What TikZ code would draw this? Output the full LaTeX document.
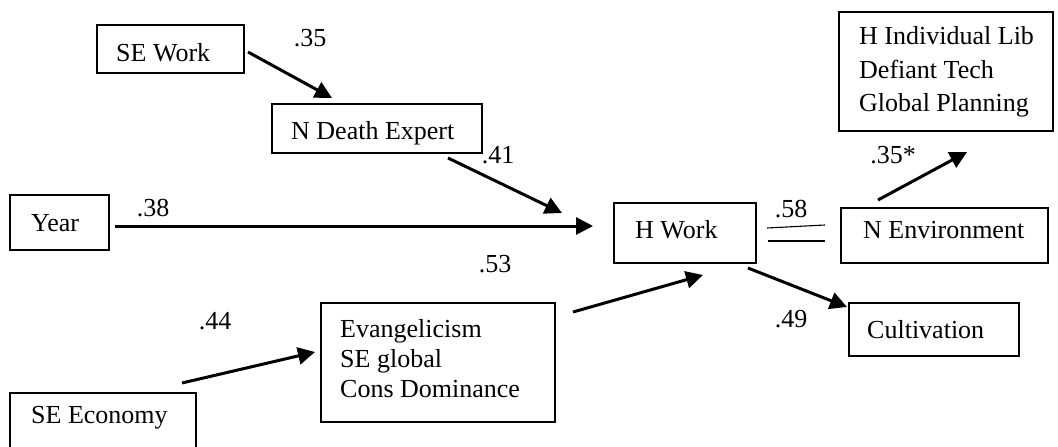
\documentclass[tikz,border=0pt]{standalone}
\usepackage{fontspec}
\setmainfont{Liberation Serif}
\usetikzlibrary{arrows.meta,fit}

\begin{document}
\begin{tikzpicture}[x=1pt,y=-1pt,
  box/.style={draw, line width=1.2pt, inner sep=0pt, outer sep=0pt},
  txt/.style={inner sep=0pt, anchor=base west, font=\fontsize{26}{30}\selectfont},
  coef/.style={inner sep=0pt, anchor=center, font=\fontsize{26}{30}\selectfont},
  path/.style={line width=3pt, -{Triangle[length=17pt,width=17pt]}},
  thin/.style={line width=1.1pt}]

  % canvas
  \clip (0,0) rectangle (1058,447);

  % variable boxes
  \node[box, fit={(97,25) (244,73)}] (sework) {};
  \node[txt] (sework-t) at (116,61) {SE Work};

  \node[box, fit={(272,104) (482,153)}] (ndeath) {};
  \node[txt] (ndeath-t) at (291,139) {N Death Expert};

  \node[box, fit={(10,195) (109,250)}] (year) {};
  \node[txt] (year-t) at (31,231) {Year};

  \node[box, fit={(614,203) (756,263)}] (hwork) {};
  \node[txt] (hwork-t) at (635,238) {H Work};

  \node[box, fit={(841,208) (1048,263)}] (nenv) {};
  \node[txt] (nenv-t) at (863,238) {N Environment};

  \node[box, fit={(839,12) (1053,131)}] (hind) {};
  \node[txt] (hind-1) at (859,44) {H Individual Lib};
  \node[txt] (hind-2) at (859,78) {Defiant Tech};
  \node[txt] (hind-3) at (859,111) {Global Planning};

  \node[box, fit={(849,303) (1019,356)}] (cult) {};
  \node[txt] (cult-t) at (867,338) {Cultivation};

  \node[box, fit={(321,303) (555,422)}] (evang) {};
  \node[txt] (evang-1) at (340,337) {Evangelicism};
  \node[txt] (evang-2) at (340,367) {SE global};
  \node[txt] (evang-3) at (340,397) {Cons Dominance};

  \node[box, fit={(10,393) (196,470)}] (seecon) {};
  \node[txt] (seecon-t) at (31,423) {SE Economy};

  % arrow end points
  \coordinate (p1s) at (248,52);  \coordinate (p1e) at (332,98);
  \coordinate (p2s) at (448,158); \coordinate (p2e) at (562,213);
  \coordinate (p3s) at (115,226); \coordinate (p3e) at (593,226);
  \coordinate (p4s) at (182,383); \coordinate (p4e) at (315,352);
  \coordinate (p5s) at (573,312); \coordinate (p5e) at (703,275);
  \coordinate (p6s) at (748,268); \coordinate (p6e) at (847,307);
  \coordinate (p7s) at (878,200); \coordinate (p7e) at (967,152);
  \coordinate (c1s) at (767,228); \coordinate (c1e) at (825,225);
  \coordinate (c2s) at (768,241); \coordinate (c2e) at (825,241);

  % paths
  \draw[path] (p1s) -- (p1e);
  \draw[path] (p2s) -- (p2e);
  \draw[path] (p3s) -- (p3e);
  \draw[path] (p4s) -- (p4e);
  \draw[path] (p5s) -- (p5e);
  \draw[path] (p6s) -- (p6e);
  \draw[path] (p7s) -- (p7e);

  % correlation between H Work and N Environment
  \draw[thin] (c1s) -- (c1e);
  \draw[thin] (c2s) -- (c2e);

  % coefficients
  \node[coef] (k35)  at (310,38)  {.35};
  \node[coef] (k41)  at (498,155) {.41};
  \node[coef] (k38)  at (153,208) {.38};
  \node[coef] (k58)  at (791,209) {.58};
  \node[coef] (k53)  at (495,264) {.53};
  \node[coef] (k44)  at (215,321) {.44};
  \node[coef] (k49)  at (791,319) {.49};
  \node[coef] (k35s) at (893,155) {.35*};
\end{tikzpicture}
\end{document}
